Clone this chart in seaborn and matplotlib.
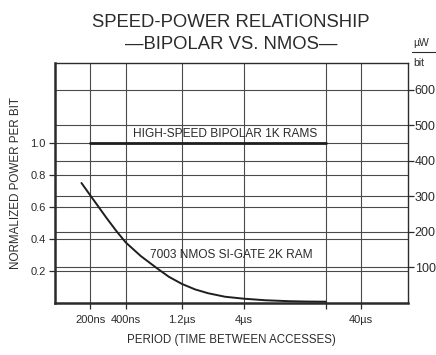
import matplotlib
matplotlib.use("Agg")
import matplotlib.pyplot as plt
from matplotlib.ticker import FixedLocator, NullLocator, FixedFormatter
import seaborn as sns
import pandas as pd

# Access period (ns) vs normalized power per bit
nmos_period_ns = [168, 200, 274, 334, 400, 535, 733, 928, 1200, 1550, 2000,
                  2790, 4000, 6150, 10000, 14000, 20000]
nmos_power = [0.75, 0.672, 0.532, 0.448, 0.378, 0.294, 0.218, 0.164, 0.119, 0.085, 0.061,
              0.039, 0.027, 0.017, 0.011, 0.009, 0.008]

bipolar_period_ns = [200, 20000]
bipolar_power = [1.0, 1.0]

x_ticks = [200, 400, 1200, 4000, 20000, 40000]
x_tick_labels = ["200ns", "400ns", "1.2\u00b5s", "4\u00b5s", "", "40\u00b5s"]
left_ticks = [0.2, 0.4, 0.6, 0.8, 1.0]
left_tick_labels = ["0.2", "0.4", "0.6", "0.8", "1.0"]
right_ticks = [100, 200, 300, 400, 500, 600]

sns.set_theme(style="white")
plt.rcParams["font.family"] = ["Liberation Sans", "DejaVu Sans"]

ink = "#2b2b2b"
grid_c = "#4a4a4a"

fig = plt.figure(figsize=(4.36, 3.55), dpi=100)
fig.patch.set_facecolor("white")
ax = fig.add_axes([0.126, 0.1465, 0.810, 0.676])
ax2 = ax.twinx()
ax.set_zorder(ax2.get_zorder() + 1)
ax.patch.set_visible(False)

nmos = pd.DataFrame({"period": nmos_period_ns, "power": nmos_power})
bipolar = pd.DataFrame({"period": bipolar_period_ns, "power": bipolar_power})

sns.lineplot(data=nmos, x="period", y="power", ax=ax, color="#1e1e1e", lw=1.4, zorder=5)
sns.lineplot(data=bipolar, x="period", y="power", ax=ax, color="#1e1e1e", lw=2.0, zorder=5)

ax.set_xscale("log")
ax.set_xlim(100, 100000)
ax.set_ylim(0, 1.5)
ax2.set_ylim(0, 675)

ax.xaxis.set_major_locator(FixedLocator(x_ticks))
ax.xaxis.set_major_formatter(FixedFormatter(x_tick_labels))
ax.xaxis.set_minor_locator(NullLocator())
ax.yaxis.set_major_locator(FixedLocator(left_ticks))
ax.yaxis.set_major_formatter(FixedFormatter(left_tick_labels))
ax2.yaxis.set_major_locator(FixedLocator(right_ticks))

ax.grid(True, color=grid_c, lw=0.8)
ax2.grid(True, axis="y", color=grid_c, lw=0.8)
ax2.grid(False, axis="x")

ax.tick_params(axis="both", direction="out", length=4, width=0.9, color=ink,
               labelsize=8, labelcolor=ink, left=True, bottom=True)
ax.tick_params(axis="y", pad=2.5)
ax.tick_params(axis="x", pad=5)
ax2.tick_params(axis="y", direction="out", length=4, width=0.9, color=ink,
                labelsize=9, labelcolor=ink, pad=0.8, right=True)

for name, sp in ax.spines.items():
    sp.set_color(ink)
    sp.set_linewidth(1.8 if name in ("left", "bottom") else 1.0)
for sp in ax2.spines.values():
    sp.set_visible(False)

ax.set_xlabel("PERIOD (TIME BETWEEN ACCESSES)", fontsize=8.3, color=ink, labelpad=6)
ax.set_ylabel("NORMALIZED POWER PER BIT", fontsize=8.4, color=ink, labelpad=6)
ax2.set_ylabel("")

ax.text(2800, 1.02, "HIGH-SPEED BIPOLAR 1K RAMS", ha="center", va="bottom",
        fontsize=8.6, color=ink)
ax.text(3150, 0.30, "7003 NMOS SI-GATE 2K RAM", ha="center", va="center",
        fontsize=8.6, color=ink)

fig.text(0.53, 0.938, "SPEED-POWER RELATIONSHIP", ha="center", va="center",
         fontsize=13.3, color=ink)
fig.text(0.53, 0.876, "\u2014BIPOLAR VS. NMOS\u2014", ha="center", va="center",
         fontsize=13.3, color=ink)

# unit label of the right axis: microwatts per bit
fig.text(0.948, 0.878, "\u00b5W", ha="left", va="center", fontsize=7.5, color=ink)
fig.add_artist(plt.Line2D([0.945, 1.0], [0.853, 0.853], color=ink, lw=0.8))
fig.text(0.948, 0.823, "bit", ha="left", va="center", fontsize=7.5, color=ink)

fig.savefig("out.png", dpi=100, facecolor="white")
